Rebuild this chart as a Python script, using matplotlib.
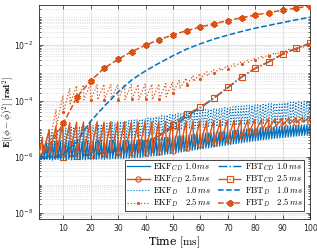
import matplotlib
matplotlib.use("Agg")
import matplotlib.pyplot as plt
import numpy as np
from matplotlib.ticker import LogLocator, NullFormatter, FixedLocator

# values are log10 of E[(phi - phi_hat)^2]

# EKF_CD 1.0 ms (1 ms teeth, t = 1..100)
ekf_cd_10_low = [
    -6.12, -6.10, -6.11, -6.09, -6.10, -6.12, -6.10, -6.09, -6.11, -6.10,
    -6.10, -6.09, -6.11, -6.10, -6.08, -6.10, -6.09, -6.11, -6.08, -6.09,
    -6.08, -6.09, -6.07, -6.08, -6.09, -6.07, -6.08, -6.06, -6.07, -6.06,
    -6.05, -6.06, -6.04, -6.05, -6.03, -6.04, -6.02, -6.03, -6.01, -6.00,
    -5.99, -5.98, -5.97, -5.96, -5.95, -5.93, -5.92, -5.90, -5.89, -5.87,
    -5.86, -5.84, -5.83, -5.81, -5.80, -5.78, -5.77, -5.75, -5.74, -5.72,
    -5.71, -5.69, -5.68, -5.66, -5.65, -5.63, -5.62, -5.60, -5.59, -5.57,
    -5.56, -5.54, -5.53, -5.51, -5.50, -5.48, -5.47, -5.46, -5.44, -5.43,
    -5.42, -5.40, -5.39, -5.38, -5.37, -5.35, -5.34, -5.33, -5.32, -5.31,
    -5.30, -5.29, -5.28, -5.27, -5.26, -5.25, -5.24, -5.23, -5.22, -5.21]
ekf_cd_10_high = [
    -5.95, -5.60, -5.50, -5.48, -5.47, -5.46, -5.47, -5.45, -5.46, -5.45,
    -5.46, -5.45, -5.44, -5.45, -5.44, -5.45, -5.44, -5.43, -5.44, -5.43,
    -5.44, -5.43, -5.42, -5.43, -5.42, -5.43, -5.42, -5.41, -5.42, -5.41,
    -5.41, -5.40, -5.41, -5.40, -5.39, -5.40, -5.38, -5.39, -5.37, -5.36,
    -5.35, -5.35, -5.34, -5.33, -5.32, -5.31, -5.30, -5.29, -5.28, -5.27,
    -5.26, -5.25, -5.24, -5.23, -5.22, -5.21, -5.20, -5.19, -5.18, -5.17,
    -5.16, -5.15, -5.14, -5.13, -5.12, -5.11, -5.10, -5.09, -5.08, -5.07,
    -5.06, -5.05, -5.04, -5.03, -5.02, -5.01, -5.00, -4.99, -4.98, -4.97,
    -4.96, -4.95, -4.95, -4.94, -4.93, -4.92, -4.92, -4.91, -4.90, -4.89,
    -4.89, -4.88, -4.87, -4.87, -4.86, -4.86, -4.85, -4.85, -4.84, -4.84]

# EKF_D 1.0 ms
ekf_d_10_low = [
    -6.05, -6.00, -5.95, -5.90, -5.86, -5.82, -5.79, -5.76, -5.73, -5.70,
    -5.68, -5.66, -5.64, -5.62, -5.60, -5.58, -5.56, -5.55, -5.53, -5.52,
    -5.50, -5.49, -5.47, -5.46, -5.45, -5.43, -5.42, -5.41, -5.40, -5.38,
    -5.37, -5.36, -5.35, -5.33, -5.32, -5.31, -5.30, -5.28, -5.27, -5.26,
    -5.24, -5.22, -5.20, -5.18, -5.16, -5.14, -5.12, -5.10, -5.08, -5.06,
    -5.05, -5.04, -5.03, -5.02, -5.01, -5.00, -4.99, -4.98, -4.97, -4.96,
    -4.95, -4.95, -4.94, -4.93, -4.93, -4.92, -4.91, -4.91, -4.90, -4.89,
    -4.89, -4.88, -4.88, -4.87, -4.87, -4.86, -4.86, -4.85, -4.85, -4.84,
    -4.84, -4.83, -4.83, -4.82, -4.82, -4.82, -4.81, -4.81, -4.81, -4.80,
    -4.80, -4.80, -4.79, -4.79, -4.79, -4.79, -4.78, -4.78, -4.78, -4.78]
ekf_d_10_high = [
    -5.90, -5.55, -5.35, -5.22, -5.14, -5.08, -5.04, -5.01, -4.99, -4.97,
    -4.96, -4.94, -4.93, -4.92, -4.91, -4.90, -4.89, -4.88, -4.87, -4.86,
    -4.85, -4.84, -4.83, -4.81, -4.80, -4.79, -4.78, -4.77, -4.75, -4.74,
    -4.73, -4.72, -4.70, -4.69, -4.68, -4.66, -4.65, -4.64, -4.62, -4.61,
    -4.59, -4.58, -4.56, -4.55, -4.53, -4.52, -4.50, -4.49, -4.47, -4.46,
    -4.44, -4.43, -4.42, -4.40, -4.39, -4.38, -4.36, -4.35, -4.34, -4.32,
    -4.31, -4.30, -4.29, -4.28, -4.27, -4.26, -4.25, -4.24, -4.23, -4.22,
    -4.21, -4.20, -4.19, -4.19, -4.18, -4.17, -4.16, -4.15, -4.14, -4.14,
    -4.13, -4.12, -4.11, -4.10, -4.10, -4.09, -4.08, -4.07, -4.07, -4.06,
    -4.05, -4.05, -4.04, -4.03, -4.03, -4.02, -4.01, -4.01, -4.00, -4.00]

# EKF_CD 2.5 ms (2.5 ms teeth: peak just before t = 2.5k, low at t = 2.5k)
ekf_cd_25_low = [
    -5.90, -5.86, -5.85, -5.86, -5.85, -5.86, -5.85, -5.86, -5.85, -5.86,
    -5.85, -5.86, -5.85, -5.85, -5.85, -5.86, -5.84, -5.83, -5.81, -5.79,
    -5.74, -5.68, -5.62, -5.57, -5.54, -5.51, -5.45, -5.39, -5.33, -5.27,
    -5.20, -5.13, -5.05, -4.97, -4.92, -4.87, -4.83, -4.79, -4.76, -4.74]
ekf_cd_25_high = [
    -5.30, -5.05, -4.90, -4.82, -4.78, -4.76, -4.75, -4.75, -4.74, -4.75,
    -4.74, -4.75, -4.74, -4.74, -4.75, -4.74, -4.74, -4.74, -4.73, -4.73,
    -4.73, -4.72, -4.72, -4.71, -4.71, -4.70, -4.70, -4.69, -4.69, -4.68,
    -4.67, -4.66, -4.65, -4.64, -4.63, -4.62, -4.61, -4.60, -4.59, -4.58]

# EKF_D 2.5 ms
ekf_d_25_low = [
    -5.90, -5.50, -4.90, -4.40, -4.10, -4.00, -3.96, -3.95, -3.96, -3.95,
    -3.95, -3.96, -3.95, -3.94, -3.95, -3.94, -3.95, -3.93, -3.85, -3.70,
    -3.55, -3.42, -3.30, -3.20, -3.10, -3.00, -2.92, -2.84, -2.76, -2.68,
    -2.61, -2.54, -2.47, -2.40, -2.33, -2.27, -2.20, -2.14, -2.07, -2.00]
ekf_d_25_high = [
    -5.60, -5.00, -4.30, -3.80, -3.55, -3.45, -3.42, -3.40, -3.41, -3.40,
    -3.40, -3.41, -3.40, -3.40, -3.41, -3.40, -3.40, -3.39, -3.38, -3.32,
    -3.25, -3.18, -3.10, -3.02, -2.95, -2.88, -2.81, -2.74, -2.67, -2.60,
    -2.53, -2.47, -2.40, -2.34, -2.27, -2.21, -2.15, -2.08, -2.02, -1.95]

# smooth FBT curves, sampled every 5 ms
t_fbt = [1, 5, 10, 15, 20, 25, 30, 35, 40, 45, 50,
         55, 60, 65, 70, 75, 80, 85, 90, 95, 100]
fbt_cd_10 = [-6.05, -6.05, -6.00, -5.95, -5.90, -5.85, -5.75, -5.62, -5.45, -5.25, -4.95,
             -4.55, -4.25, -3.90, -3.53, -3.15, -2.84, -2.60, -2.33, -2.12, -1.94]
fbt_cd_25 = [-6.00, -6.00, -6.00, -5.97, -5.95, -5.88, -5.78, -5.65, -5.50, -5.25, -4.85,
             -4.47, -4.22, -3.88, -3.51, -3.13, -2.82, -2.59, -2.31, -2.11, -1.93]
fbt_d_10 = [-6.05, -6.00, -5.90, -5.45, -4.72, -4.18, -3.68, -3.24, -2.92, -2.64, -2.38,
            -2.14, -1.95, -1.78, -1.64, -1.51, -1.39, -1.29, -1.19, -1.09, -1.00]
fbt_d_25 = [-6.00, -5.60, -4.80, -3.86, -3.27, -2.82, -2.50, -2.23, -2.00, -1.80, -1.63,
            -1.48, -1.35, -1.23, -1.12, -1.02, -0.92, -0.83, -0.75, -0.67, -0.59]

blue = "#0072BD"
orange = "#D95319"

plt.rcParams["mathtext.fontset"] = "cm"
plt.rcParams["font.family"] = "DejaVu Sans"


def teeth_1ms(low, high):
    # low at t = k, peak at t = k + 0.9
    t, v = [], []
    for k in range(len(low)):
        t += [1 + k, 1.9 + k]
        v += [low[k], high[k]]
    return np.array(t), 10.0 ** np.array(v)


def teeth_25ms(low, high, start):
    # start value at t = 1, then peak just before each 2.5 ms update, low right after
    t, v = [1.0], [start]
    for k in range(len(low)):
        t += [2.5 * (k + 1) - 0.15, 2.5 * (k + 1)]
        v += [high[k], low[k]]
    return np.array(t), 10.0 ** np.array(v)


fig = plt.figure(figsize=(3.17, 2.49), dpi=100)
ax = fig.add_axes([0.122, 0.1205, 0.856, 0.8595])

t_arr = np.array(t_fbt)
mk = list(range(2, len(t_fbt)))

# FBT_CD lines sit under the EKF bands on the left, as in the figure
l5, = ax.plot(t_arr, 10.0 ** np.array(fbt_cd_10), "-.", color=blue, lw=1.0, zorder=1.6)
l6, = ax.plot(t_arr, 10.0 ** np.array(fbt_cd_25), "-.", color=orange, lw=1.0,
              marker="s", markersize=3.8, markerfacecolor="none", markeredgewidth=0.8,
              markevery=mk, zorder=1.7)

t, v = teeth_1ms(ekf_d_10_low, ekf_d_10_high)
l3, = ax.plot(t, v, ":", color=blue, lw=0.8, zorder=2)
t, v = teeth_1ms(ekf_cd_10_low, ekf_cd_10_high)
l1, = ax.plot(t, v, "-", color=blue, lw=0.9, zorder=3)

t, v = teeth_25ms(ekf_d_25_low, ekf_d_25_high, -6.0)
marks = [i for i in range(len(t)) if t[i] % 5 == 0]
l4, = ax.plot(t, v, ":", color=orange, lw=0.9, marker=".", markersize=2.5,
              markevery=marks, zorder=4)
t, v = teeth_25ms(ekf_cd_25_low, ekf_cd_25_high, -5.95)
marks = [i for i in range(len(t)) if t[i] % 5 == 0]
l2, = ax.plot(t, v, "-", color=orange, lw=1.0, marker="o", markersize=3.8,
              markerfacecolor="none", markeredgewidth=0.8, markevery=marks, zorder=5)

l7, = ax.plot(t_arr, 10.0 ** np.array(fbt_d_10), "--", color=blue, lw=1.1, zorder=6)
l8, = ax.plot(t_arr, 10.0 ** np.array(fbt_d_25), "--", color=orange, lw=1.1,
              marker=(6, 2, 0), markersize=4.5, markeredgewidth=1.6,
              markevery=mk, zorder=8)

ax.set_yscale("log")
ax.set_xlim(1, 100)
ax.set_ylim(10 ** -8.23, 10 ** -0.56)
ax.set_xticks(np.arange(10, 101, 10))
ax.yaxis.set_major_locator(FixedLocator([1e-8, 1e-6, 1e-4, 1e-2]))
ax.yaxis.set_minor_locator(LogLocator(base=10, subs=np.arange(1, 10), numticks=30))
ax.yaxis.set_minor_formatter(NullFormatter())

ax.grid(True, which="major", color="#dcdcdc", lw=0.6, ls="-")
ax.grid(True, which="minor", axis="y", color="#d0d0d0", lw=0.5, ls=":")
ax.set_axisbelow(True)

gray = "#262626"
for sp in ax.spines.values():
    sp.set_color(gray)
    sp.set_linewidth(0.6)
ax.tick_params(which="both", direction="in", top=True, right=True,
               colors=gray, labelsize=5.6, width=0.5)
ax.tick_params(which="major", length=3)
ax.tick_params(which="minor", length=1.5)

ax.set_xlabel(r"Time $[\mathrm{ms}]$", fontsize=8, family="DejaVu Serif", labelpad=1)
# y label placed by its centre so it sits between the figure edge and the tick labels
fig.text(8.5 / 317, 0.55, r"$\mathbf{E}[(\phi-\hat{\phi})^2]\ [\mathbf{rad}^2]$",
         fontsize=6.8, rotation=90, ha="center", va="center")

labels = [r"$\mathrm{EKF}_{CD}\ 1.0\,ms$", r"$\mathrm{EKF}_{CD}\ 2.5\,ms$",
          r"$\mathrm{EKF}_{D}\ \ \ 1.0\,ms$", r"$\mathrm{EKF}_{D}\ \ \ 2.5\,ms$",
          r"$\mathrm{FBT}_{CD}\ 1.0\,ms$", r"$\mathrm{FBT}_{CD}\ 2.5\,ms$",
          r"$\mathrm{FBT}_{D}\ \ \ 1.0\,ms$", r"$\mathrm{FBT}_{D}\ \ \ 2.5\,ms$"]
leg = ax.legend([l1, l2, l3, l4, l5, l6, l7, l8], labels, ncol=2, fontsize=6.3,
                loc="lower right", bbox_to_anchor=(0.978, 0.037), borderaxespad=0,
                handlelength=2.6, columnspacing=0.8, handletextpad=0.4,
                labelspacing=0.0, borderpad=0.2, fancybox=False, framealpha=1)
leg.get_frame().set_edgecolor(gray)
leg.get_frame().set_linewidth(0.6)
leg.set_zorder(20)

fig.savefig("out.png", dpi=100)
